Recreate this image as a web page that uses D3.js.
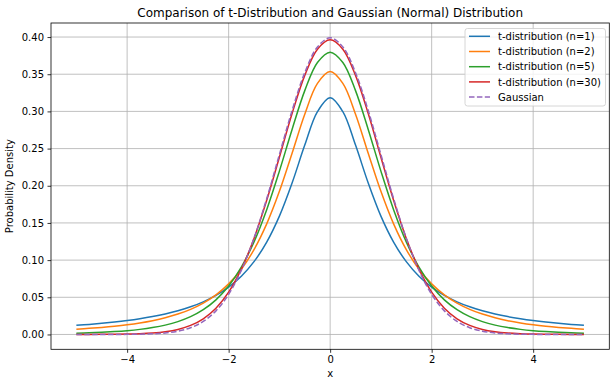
<!DOCTYPE html>
<html><head><meta charset="utf-8">
<script src="https://cdn.jsdelivr.net/npm/d3@7"></script>
<style>body{margin:0;background:#fff;} svg{display:block;font-family:"DejaVu Sans",sans-serif;}</style>
</head><body>
<svg id="c" width="615" height="387"></svg>
<script>
const xValues = [-5,-4.75,-4.5,-4.25,-4,-3.75,-3.5,-3.25,-3,-2.75,-2.5,-2.25,-2,-1.75,-1.5,-1.25,-1,-0.75,-0.5,-0.25,0,0.25,0.5,0.75,1,1.25,1.5,1.75,2,2.25,2.5,2.75,3,3.25,3.5,3.75,4,4.25,4.5,4.75,5];
const t1 = [0.01224,0.01351,0.01498,0.01670,0.01872,0.02113,0.02402,0.02753,0.03183,0.03717,0.04390,0.05250,0.06366,0.07835,0.09794,0.12422,0.15915,0.20372,0.25465,0.29959,0.31831,0.29959,0.25465,0.20372,0.15915,0.12422,0.09794,0.07835,0.06366,0.05250,0.04390,0.03717,0.03183,0.02753,0.02402,0.02113,0.01872,0.01670,0.01498,0.01351,0.01224];
const t2 = [0.00713,0.00821,0.00953,0.01113,0.01309,0.01553,0.01859,0.02246,0.02741,0.03382,0.04220,0.05328,0.06804,0.08779,0.11413,0.14872,0.19245,0.24378,0.29630,0.33760,0.35355,0.33760,0.29630,0.24378,0.19245,0.14872,0.11413,0.08779,0.06804,0.05328,0.04220,0.03382,0.02741,0.02246,0.01859,0.01553,0.01309,0.01113,0.00953,0.00821,0.00713];
const t5 = [0.00176,0.00227,0.00295,0.00387,0.00512,0.00685,0.00924,0.01259,0.01729,0.02393,0.03333,0.04657,0.06509,0.09054,0.12452,0.16789,0.21968,0.27570,0.32792,0.36572,0.37961,0.36572,0.32792,0.27570,0.21968,0.16789,0.12452,0.09054,0.06509,0.04657,0.03333,0.02393,0.01729,0.01259,0.00924,0.00685,0.00512,0.00387,0.00295,0.00227,0.00176];
const t30 = [0.00003,0.00007,0.00013,0.00027,0.00053,0.00102,0.00196,0.00369,0.00679,0.01215,0.02109,0.03534,0.05694,0.08781,0.12915,0.18038,0.23836,0.29710,0.34841,0.38366,0.39623,0.38366,0.34841,0.29710,0.23836,0.18038,0.12915,0.08781,0.05694,0.03534,0.02109,0.01215,0.00679,0.00369,0.00196,0.00102,0.00053,0.00027,0.00013,0.00007,0.00003];
const gauss = [0.0000015,0.0000050,0.000016,0.000048,0.000134,0.000353,0.000873,0.00203,0.00443,0.00909,0.01753,0.03174,0.05399,0.08628,0.12952,0.18265,0.24197,0.30114,0.35207,0.38667,0.39894,0.38667,0.35207,0.30114,0.24197,0.18265,0.12952,0.08628,0.05399,0.03174,0.01753,0.00909,0.00443,0.00203,0.000873,0.000353,0.000134,0.000048,0.000016,0.0000050,0.0000015];
const seriesNames = ["t-distribution (n=1)","t-distribution (n=2)","t-distribution (n=5)","t-distribution (n=30)","Gaussian"];
const xTicks = [-4,-2,0,2,4];
const yTicks = [0,0.05,0.10,0.15,0.20,0.25,0.30,0.35,0.40];

const series = [
  {name: seriesNames[0], values: t1, color: "#1f77b4", dash: null},
  {name: seriesNames[1], values: t2, color: "#ff7f0e", dash: null},
  {name: seriesNames[2], values: t5, color: "#2ca02c", dash: null},
  {name: seriesNames[3], values: t30, color: "#d62728", dash: null},
  {name: seriesNames[4], values: gauss, color: "#9467bd", dash: "5.5,2.4"}
];

const svg = d3.select("#c");
const L = 51, R = 609.3, T = 23, B = 349.3;
const x = d3.scaleLinear().domain([-5.5, 5.5]).range([L, R]);
const y = d3.scaleLinear().domain([-0.01995, 0.41889]).range([B, T]);

// grid
const g = svg.append("g");
g.selectAll(".gx").data(xTicks).enter().append("line")
  .attr("x1", d => x(d)).attr("x2", d => x(d)).attr("y1", T).attr("y2", B)
  .attr("stroke", "#b0b0b0").attr("stroke-width", 0.8);
g.selectAll(".gy").data(yTicks).enter().append("line")
  .attr("y1", d => y(d)).attr("y2", d => y(d)).attr("x1", L).attr("x2", R)
  .attr("stroke", "#b0b0b0").attr("stroke-width", 0.8);

// lines
const line = d3.line().curve(d3.curveCatmullRom.alpha(0.5));
series.forEach(s => {
  svg.append("path")
    .attr("d", line(xValues.map((xv, i) => [x(xv), y(s.values[i])])))
    .attr("fill", "none").attr("stroke", s.color).attr("stroke-width", 1.5)
    .attr("stroke-dasharray", s.dash);
});

// axes
const xAxis = d3.axisBottom(x).tickValues(xTicks).tickSize(3.5).tickPadding(3.5)
  .tickFormat(d => d < 0 ? "\u2212" + Math.abs(d) : String(d));
const yAxis = d3.axisLeft(y).tickValues(yTicks).tickSize(3.5).tickPadding(3.5)
  .tickFormat(d3.format(".2f"));
const gx = svg.append("g").attr("transform", `translate(0,${B})`).call(xAxis);
const gy = svg.append("g").attr("transform", `translate(${L},0)`).call(yAxis);
[gx, gy].forEach(a => {
  a.select(".domain").remove();
  a.selectAll("text").attr("font-size", 10).attr("fill", "#000").attr("font-family", "DejaVu Sans");
  a.selectAll("line").attr("stroke", "#000").attr("stroke-width", 0.8);
});

// spines
svg.append("rect").attr("x", L).attr("y", T).attr("width", R - L).attr("height", B - T)
  .attr("fill", "none").attr("stroke", "#000").attr("stroke-width", 0.8);

// labels
svg.append("text").attr("x", (L + R) / 2).attr("y", 17).attr("text-anchor", "middle")
  .attr("font-size", 12).text("Comparison of t-Distribution and Gaussian (Normal) Distribution");
svg.append("text").attr("x", (L + R) / 2).attr("y", 376.5).attr("text-anchor", "middle")
  .attr("font-size", 10).text("x");
svg.append("text").attr("transform", `translate(13,${(T + B) / 2}) rotate(-90)`)
  .attr("text-anchor", "middle").attr("font-size", 10).text("Probability Density");

// legend
const lg = svg.append("g");
lg.append("rect").attr("x", 465).attr("y", 28.5).attr("width", 140.5).attr("height", 77.5)
  .attr("rx", 2.5).attr("fill", "#fff").attr("fill-opacity", 0.8).attr("stroke", "#cccccc").attr("stroke-width", 0.8);
series.forEach((s, i) => {
  const yy = 36.3 + i * 15.2;
  lg.append("line").attr("x1", 469).attr("x2", 490).attr("y1", yy).attr("y2", yy)
    .attr("stroke", s.color).attr("stroke-width", 1.5).attr("stroke-dasharray", s.dash);
  lg.append("text").attr("x", 498).attr("y", yy + 3.6).attr("font-size", 10).text(s.name);
});
</script>
</body></html>
